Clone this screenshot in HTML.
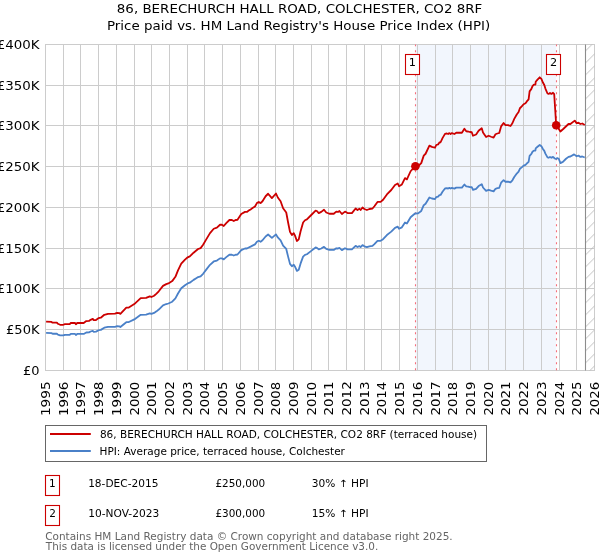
<!DOCTYPE html>
<html lang="en"><head><meta charset="utf-8"><title>86, BERECHURCH HALL ROAD, COLCHESTER, CO2 8RF</title>
<style>html,body{margin:0;padding:0;background:#fff}svg{display:block}</style></head>
<body>
<svg width="600" height="560" viewBox="0 0 600 560" font-family="DejaVu Sans, Liberation Sans, sans-serif">
<defs><pattern id="h" width="12" height="12" patternUnits="userSpaceOnUse" x="585.4" y="3.1"><path d="M-1,13 L13,-1 M-1,1 L1,-1 M11,13 L13,11" stroke="#b0b0b0" stroke-width="0.8" fill="none"/></pattern><clipPath id="c"><rect x="45" y="44" width="550" height="327"/></clipPath></defs>
<rect width="600" height="560" fill="#fff"/>
<rect x="415.4" y="44.5" width="140.8" height="326.0" fill="#f2f6fd"/>
<path d="M45.5,44.0V371.0 M63.5,44.0V371.0 M80.5,44.0V371.0 M98.5,44.0V371.0 M116.5,44.0V371.0 M134.5,44.0V371.0 M151.5,44.0V371.0 M169.5,44.0V371.0 M187.5,44.0V371.0 M204.5,44.0V371.0 M222.5,44.0V371.0 M240.5,44.0V371.0 M258.5,44.0V371.0 M275.5,44.0V371.0 M293.5,44.0V371.0 M311.5,44.0V371.0 M328.5,44.0V371.0 M346.5,44.0V371.0 M364.5,44.0V371.0 M381.5,44.0V371.0 M399.5,44.0V371.0 M417.5,44.0V371.0 M435.5,44.0V371.0 M452.5,44.0V371.0 M470.5,44.0V371.0 M488.5,44.0V371.0 M505.5,44.0V371.0 M523.5,44.0V371.0 M541.5,44.0V371.0 M559.5,44.0V371.0 M576.5,44.0V371.0 M594.5,44.0V371.0 M45.0,370.5H595.0 M45.0,329.5H595.0 M45.0,288.5H595.0 M45.0,248.5H595.0 M45.0,207.5H595.0 M45.0,166.5H595.0 M45.0,125.5H595.0 M45.0,85.5H595.0 M45.0,44.5H595.0" stroke="#cccccc" stroke-width="1" fill="none"/>
<rect x="585.4" y="44.5" width="9.1" height="326.0" fill="url(#h)"/>
<path d="M585.5,44.5V370.5" stroke="#8c8c8c" stroke-width="1.1"/>
<path d="M415.5,44.5V370.5" stroke="#f56e7a" stroke-width="1.1" stroke-dasharray="2,4" stroke-dashoffset="0.2" fill="none"/>
<path d="M556.5,44.5V370.5" stroke="#f56e7a" stroke-width="1.1" stroke-dasharray="2,4" stroke-dashoffset="0.2" fill="none"/>
<g clip-path="url(#c)" fill="none" stroke-width="1.8" stroke-linejoin="round" stroke-linecap="butt">
<path d="M46.10,332.96 L51.50,333.12 L52.60,333.73 L56.90,333.73 L57.90,334.58 L60.10,335.35 L63.30,335.35 L64.90,334.81 L69.70,334.81 L70.80,333.96 L75.10,333.96 L75.90,334.96 L77.20,333.96 L83.70,333.96 L86.30,332.50 L89.00,332.35 L90.60,331.50 L92.80,330.81 L93.80,331.81 L96.00,331.65 L98.70,330.19 L100.80,329.88 L104.30,327.65 L108.00,326.96 L115.00,326.81 L117.10,326.19 L119.30,326.35 L120.40,326.96 L126.30,322.19 L128.40,322.19 L134.30,319.42 L140.70,314.81 L146.10,314.65 L149.80,313.42 L151.40,313.96 L154.10,312.96 L156.50,311.35 L158.75,309.58 L163.00,305.42 L166.25,304.04 L168.40,303.50 L172.20,301.73 L175.40,298.42 L178.00,293.50 L181.25,288.27 L185.00,285.19 L187.70,283.42 L189.80,282.73 L193.60,279.88 L196.25,278.19 L198.10,277.04 L200.60,276.35 L203.10,273.77 L206.25,269.65 L210.00,264.81 L213.75,261.46 L216.90,260.58 L220.00,258.38 L221.90,258.38 L223.75,259.35 L226.25,257.12 L229.40,254.73 L231.90,254.73 L233.75,255.50 L235.60,254.73 L237.50,254.54 L241.25,250.12 L245.00,248.50 L246.90,248.50 L248.75,247.50 L250.60,246.58 L252.50,245.58 L255.00,244.35 L256.90,241.73 L258.75,240.81 L260.60,241.73 L262.50,240.31 L265.60,236.46 L268.10,234.54 L271.90,237.88 L276.00,234.35 L277.80,237.42 L280.60,240.31 L283.10,245.73 L286.25,248.96 L288.10,256.65 L290.00,263.88 L291.90,266.27 L293.75,264.81 L295.00,266.73 L296.90,270.88 L298.75,269.65 L300.60,263.38 L303.10,256.65 L305.00,254.92 L306.90,254.27 L311.25,250.88 L315.60,247.50 L316.90,247.81 L318.75,249.42 L321.25,248.50 L324.00,246.85 L326.25,248.96 L329.40,249.92 L333.75,249.92 L336.25,248.27 L338.10,248.50 L339.40,247.81 L341.90,250.12 L345.00,248.27 L347.50,249.42 L351.90,249.42 L355.60,245.88 L357.50,247.04 L359.40,246.08 L360.60,247.04 L362.50,245.12 L364.40,246.27 L366.90,247.04 L369.40,246.27 L372.50,245.88 L374.40,244.15 L377.50,240.81 L380.60,240.81 L383.10,239.15 L386.90,235.04 L391.25,231.65 L395.00,227.81 L397.75,226.65 L399.00,228.77 L401.90,227.35 L405.00,222.50 L406.90,223.50 L410.60,217.23 L415.00,213.50 L418.10,213.38 L421.25,210.96 L423.75,205.19 L425.60,203.77 L429.40,197.50 L431.90,198.50 L435.00,199.15 L436.25,197.04 L438.10,196.58 L439.40,195.12 L440.60,194.92 L442.50,191.73 L445.00,188.50 L446.90,188.19 L448.10,188.58 L449.40,187.88 L450.60,188.58 L451.90,187.88 L454.40,188.58 L456.25,187.62 L461.90,187.62 L464.40,184.54 L466.25,186.46 L468.10,186.65 L469.90,187.04 L471.75,187.23 L473.00,189.92 L476.10,188.96 L478.60,186.08 L481.75,184.15 L483.00,187.50 L486.10,190.88 L488.60,189.92 L491.10,190.69 L493.60,191.35 L495.50,188.77 L497.40,188.19 L499.25,187.81 L501.10,182.73 L503.60,180.12 L505.50,181.73 L508.00,181.73 L510.50,182.42 L512.40,180.31 L514.25,176.96 L516.75,173.58 L518.60,171.65 L519.90,168.77 L521.75,167.35 L523.60,165.69 L525.50,164.92 L526.80,163.50 L528.60,161.88 L529.60,155.81 L531.40,153.88 L532.50,151.73 L533.90,150.58 L535.40,150.58 L535.70,148.42 L537.50,146.73 L539.70,144.96 L541.40,146.19 L542.90,148.96 L544.30,150.88 L545.40,153.65 L547.50,157.42 L548.60,157.73 L550.00,156.96 L551.40,157.73 L553.00,156.88 L554.20,157.96 L554.70,158.50 L556.00,159.00 L557.25,158.10 L558.75,158.75 L560.40,163.10 L562.90,161.90 L566.00,158.75 L568.50,156.90 L570.40,156.50 L574.10,154.40 L576.60,156.25 L578.50,155.60 L580.40,156.90 L582.25,156.50 L584.75,157.50" stroke="#4a80c8"/>
<path d="M46.10,321.70 L51.50,321.90 L52.60,322.70 L56.90,322.70 L57.90,323.80 L60.10,324.80 L63.30,324.80 L64.90,324.10 L69.70,324.10 L70.80,323.00 L75.10,323.00 L75.90,324.30 L77.20,323.00 L83.70,323.00 L86.30,321.10 L89.00,320.90 L90.60,319.80 L92.80,318.90 L93.80,320.20 L96.00,320.00 L98.70,318.10 L100.80,317.70 L104.30,314.80 L108.00,313.90 L115.00,313.70 L117.10,312.90 L119.30,313.10 L120.40,313.90 L126.30,307.70 L128.40,307.70 L134.30,304.10 L140.70,298.10 L146.10,297.90 L149.80,296.30 L151.40,297.00 L154.10,295.70 L156.50,293.60 L158.75,291.30 L163.00,285.90 L166.25,284.10 L168.40,283.40 L172.20,281.10 L175.40,276.80 L178.00,270.40 L181.25,263.60 L185.00,259.60 L187.70,257.30 L189.80,256.40 L193.60,252.70 L196.25,250.50 L198.10,249.00 L200.60,248.10 L203.10,244.75 L206.25,239.40 L210.00,233.10 L213.75,228.75 L216.90,227.60 L220.00,224.75 L221.90,224.75 L223.75,226.00 L226.25,223.10 L229.40,220.00 L231.90,220.00 L233.75,221.00 L235.60,220.00 L237.50,219.75 L241.25,214.00 L245.00,211.90 L246.90,211.90 L248.75,210.60 L250.60,209.40 L252.50,208.10 L255.00,206.50 L256.90,203.10 L258.75,201.90 L260.60,203.10 L262.50,201.25 L265.60,196.25 L268.10,193.75 L271.90,198.10 L276.00,193.50 L277.80,197.50 L280.60,201.25 L283.10,208.30 L286.25,212.50 L288.10,222.50 L290.00,231.90 L291.90,235.00 L293.75,233.10 L295.00,235.60 L296.90,241.00 L298.75,239.40 L300.60,231.25 L303.10,222.50 L305.00,220.25 L306.90,219.40 L311.25,215.00 L315.60,210.60 L316.90,211.00 L318.75,213.10 L321.25,211.90 L324.00,209.75 L326.25,212.50 L329.40,213.75 L333.75,213.75 L336.25,211.60 L338.10,211.90 L339.40,211.00 L341.90,214.00 L345.00,211.60 L347.50,213.10 L351.90,213.10 L355.60,208.50 L357.50,210.00 L359.40,208.75 L360.60,210.00 L362.50,207.50 L364.40,209.00 L366.90,210.00 L369.40,209.00 L372.50,208.50 L374.40,206.25 L377.50,201.90 L380.60,201.90 L383.10,199.75 L386.90,194.40 L391.25,190.00 L395.00,185.00 L397.75,183.50 L399.00,186.25 L401.90,184.40 L405.00,178.10 L406.90,179.40 L410.60,171.25 L415.00,166.40 L418.10,166.25 L421.25,163.10 L423.75,155.60 L425.60,153.75 L429.40,145.60 L431.90,146.90 L435.00,147.75 L436.25,145.00 L438.10,144.40 L439.40,142.50 L440.60,142.25 L442.50,138.10 L445.00,133.90 L446.90,133.50 L448.10,134.00 L449.40,133.10 L450.60,134.00 L451.90,133.10 L454.40,134.00 L456.25,132.75 L461.90,132.75 L464.40,128.75 L466.25,131.25 L468.10,131.50 L469.90,132.00 L471.75,132.25 L473.00,135.75 L476.10,134.50 L478.60,130.75 L481.75,128.25 L483.00,132.60 L486.10,137.00 L488.60,135.75 L491.10,136.75 L493.60,137.60 L495.50,134.25 L497.40,133.50 L499.25,133.00 L501.10,126.40 L503.60,123.00 L505.50,125.10 L508.00,125.10 L510.50,126.00 L512.40,123.25 L514.25,118.90 L516.75,114.50 L518.60,112.00 L519.90,108.25 L521.75,106.40 L523.60,104.25 L525.50,103.25 L526.80,101.40 L528.60,99.30 L529.60,91.40 L531.40,88.90 L532.50,86.10 L533.90,84.60 L535.40,84.60 L535.70,81.80 L537.50,79.60 L539.70,77.30 L541.40,78.90 L542.90,82.50 L544.30,85.00 L545.40,88.60 L547.50,93.50 L548.60,93.90 L550.00,92.90 L551.40,93.90 L553.00,92.80 L554.20,94.20 L556.20,125.30 L557.90,127.50 L560.40,131.50 L563.50,128.75 L568.50,124.00 L570.40,124.00 L574.75,120.60 L576.60,123.10 L578.50,122.75 L580.40,124.00 L582.25,123.50 L584.75,125.00" stroke="#cc0000"/>
</g>
<circle cx="415.4" cy="166.3" r="4.3" fill="#cc0000"/>
<circle cx="556.2" cy="125.3" r="4.3" fill="#cc0000"/>
<rect x="405.5" y="54.5" width="14" height="20" fill="#fff" stroke="#cc0000" stroke-width="1.1"/>
<text transform="translate(408.79,65.90) scale(1.0300,1)" font-size="11" fill="#000" >1</text>
<rect x="546.5" y="54.5" width="14" height="20" fill="#fff" stroke="#cc0000" stroke-width="1.1"/>
<text transform="translate(550.04,65.90) scale(1.0300,1)" font-size="11" fill="#000" >2</text>
<text transform="translate(116.83,12.90) scale(1.1007,1)" font-size="12.2" fill="#000" >86, BERECHURCH HALL ROAD, COLCHESTER, CO2 8RF</text>
<text transform="translate(106.96,30.35) scale(1.0994,1)" font-size="12.2" fill="#000" >Price paid vs. HM Land Registry's House Price Index (HPI)</text>
<text transform="translate(22.97,374.90) scale(1.0631,1)" font-size="12.2" fill="#000" >£0</text>
<text transform="translate(6.02,333.90) scale(1.0713,1)" font-size="12.2" fill="#000" >£50K</text>
<text transform="translate(-3.21,292.90) scale(1.0960,1)" font-size="12.2" fill="#000">£100K</text>
<text transform="translate(-3.21,252.90) scale(1.0960,1)" font-size="12.2" fill="#000">£150K</text>
<text transform="translate(-3.21,211.90) scale(1.0960,1)" font-size="12.2" fill="#000">£200K</text>
<text transform="translate(-3.21,170.90) scale(1.0960,1)" font-size="12.2" fill="#000">£250K</text>
<text transform="translate(-3.21,129.90) scale(1.0960,1)" font-size="12.2" fill="#000">£300K</text>
<text transform="translate(-3.21,89.90) scale(1.0960,1)" font-size="12.2" fill="#000">£350K</text>
<text transform="translate(-3.21,48.90) scale(1.0960,1)" font-size="12.2" fill="#000">£400K</text>
<text transform="translate(49.80,416.10) rotate(-90) scale(1.1196,1)" font-size="12.2" fill="#000">1995</text>
<text transform="translate(67.80,416.09) rotate(-90) scale(1.1079,1)" font-size="12.2" fill="#000">1996</text>
<text transform="translate(84.80,416.10) rotate(-90) scale(1.1196,1)" font-size="12.2" fill="#000">1997</text>
<text transform="translate(102.80,416.09) rotate(-90) scale(1.1102,1)" font-size="12.2" fill="#000">1998</text>
<text transform="translate(120.80,416.09) rotate(-90) scale(1.1125,1)" font-size="12.2" fill="#000">1999</text>
<text transform="translate(138.80,415.60) rotate(-90) scale(1.0940,1)" font-size="12.2" fill="#000">2000</text>
<text transform="translate(155.80,415.61) rotate(-90) scale(1.1055,1)" font-size="12.2" fill="#000">2001</text>
<text transform="translate(173.80,415.62) rotate(-90) scale(1.1102,1)" font-size="12.2" fill="#000">2002</text>
<text transform="translate(191.80,415.61) rotate(-90) scale(1.1009,1)" font-size="12.2" fill="#000">2003</text>
<text transform="translate(208.80,415.60) rotate(-90) scale(1.0895,1)" font-size="12.2" fill="#000">2004</text>
<text transform="translate(226.80,415.61) rotate(-90) scale(1.1032,1)" font-size="12.2" fill="#000">2005</text>
<text transform="translate(244.80,415.60) rotate(-90) scale(1.0918,1)" font-size="12.2" fill="#000">2006</text>
<text transform="translate(262.80,415.61) rotate(-90) scale(1.1032,1)" font-size="12.2" fill="#000">2007</text>
<text transform="translate(279.80,415.60) rotate(-90) scale(1.0940,1)" font-size="12.2" fill="#000">2008</text>
<text transform="translate(297.80,415.60) rotate(-90) scale(1.0963,1)" font-size="12.2" fill="#000">2009</text>
<text transform="translate(315.80,415.60) rotate(-90) scale(1.0940,1)" font-size="12.2" fill="#000">2010</text>
<text transform="translate(332.80,415.61) rotate(-90) scale(1.1055,1)" font-size="12.2" fill="#000">2011</text>
<text transform="translate(350.80,415.62) rotate(-90) scale(1.1102,1)" font-size="12.2" fill="#000">2012</text>
<text transform="translate(368.80,415.61) rotate(-90) scale(1.1009,1)" font-size="12.2" fill="#000">2013</text>
<text transform="translate(385.80,415.60) rotate(-90) scale(1.0895,1)" font-size="12.2" fill="#000">2014</text>
<text transform="translate(403.80,415.61) rotate(-90) scale(1.1032,1)" font-size="12.2" fill="#000">2015</text>
<text transform="translate(421.80,415.60) rotate(-90) scale(1.0918,1)" font-size="12.2" fill="#000">2016</text>
<text transform="translate(439.80,415.61) rotate(-90) scale(1.1032,1)" font-size="12.2" fill="#000">2017</text>
<text transform="translate(456.80,415.60) rotate(-90) scale(1.0940,1)" font-size="12.2" fill="#000">2018</text>
<text transform="translate(474.80,415.60) rotate(-90) scale(1.0963,1)" font-size="12.2" fill="#000">2019</text>
<text transform="translate(492.80,415.60) rotate(-90) scale(1.0940,1)" font-size="12.2" fill="#000">2020</text>
<text transform="translate(509.80,415.61) rotate(-90) scale(1.1055,1)" font-size="12.2" fill="#000">2021</text>
<text transform="translate(527.80,415.62) rotate(-90) scale(1.1102,1)" font-size="12.2" fill="#000">2022</text>
<text transform="translate(545.80,415.61) rotate(-90) scale(1.1009,1)" font-size="12.2" fill="#000">2023</text>
<text transform="translate(563.80,415.60) rotate(-90) scale(1.0895,1)" font-size="12.2" fill="#000">2024</text>
<text transform="translate(580.80,415.61) rotate(-90) scale(1.1032,1)" font-size="12.2" fill="#000">2025</text>
<text transform="translate(598.80,415.60) rotate(-90) scale(1.0918,1)" font-size="12.2" fill="#000">2026</text>
<rect x="45.5" y="425.5" width="441" height="36" fill="#fff" stroke="#666" stroke-width="1"/>
<path d="M50,434H90.8" stroke="#cc0000" stroke-width="2"/>
<path d="M50,451H90.8" stroke="#4a80c8" stroke-width="2"/>
<text transform="translate(99.92,437.60) scale(1.0519,1)" font-size="10" fill="#000" >86, BERECHURCH HALL ROAD, COLCHESTER, CO2 8RF (terraced house)</text>
<text transform="translate(99.55,454.70) scale(1.0500,1)" font-size="10" fill="#000">HPI: Average price, terraced house, Colchester</text>
<rect x="45.5" y="475.5" width="14" height="20" fill="#fff" stroke="#cc0000" stroke-width="1.1"/>
<text transform="translate(49.06,486.60) scale(1.0500,1)" font-size="10" fill="#000" >1</text>
<text transform="translate(88.13,486.60) scale(1.0597,1)" font-size="10" fill="#000" >18-DEC-2015</text>
<text transform="translate(215.47,486.60) scale(1.0420,1)" font-size="10" fill="#000" >£250,000</text>
<text transform="translate(311.80,486.60) scale(1.0638,1)" font-size="10" fill="#000" >30% ↑ HPI</text>
<rect x="45.5" y="505.5" width="14" height="20" fill="#fff" stroke="#cc0000" stroke-width="1.1"/>
<text transform="translate(49.30,516.60) scale(1.0500,1)" font-size="10" fill="#000" >2</text>
<text transform="translate(88.13,516.60) scale(1.0663,1)" font-size="10" fill="#000" >10-NOV-2023</text>
<text transform="translate(215.47,516.60) scale(1.0420,1)" font-size="10" fill="#000" >£300,000</text>
<text transform="translate(311.73,516.60) scale(1.0652,1)" font-size="10" fill="#000" >15% ↑ HPI</text>
<text transform="translate(45.22,539.70) scale(1.0487,1)" font-size="10" fill="#646464" >Contains HM Land Registry data © Crown copyright and database right 2025.</text>
<text transform="translate(45.85,549.60) scale(1.0436,1)" font-size="10" fill="#646464" >This data is licensed under the Open Government Licence v3.0.</text>
</svg>
</body></html>
